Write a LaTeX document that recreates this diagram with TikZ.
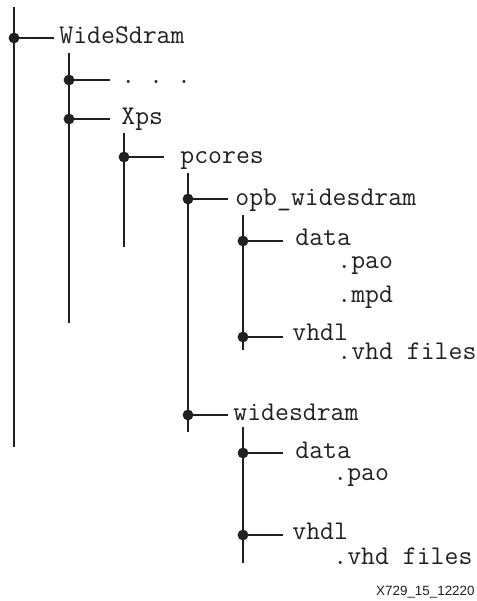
\documentclass[tikz,border=0pt]{standalone}
\usepackage{fontspec}
\newfontfamily\labfont{Liberation Sans}
\definecolor{ink}{HTML}{231F20}
\begin{document}
\begin{tikzpicture}[x=0.5pt,y=-0.5pt,
  ln/.style={draw=ink,line width=0.65pt},
  dt/.style={circle,fill=ink,inner sep=0pt,minimum size=5.4pt},
  txt/.style={anchor=base west,inner sep=0pt,text=ink,font=\ttfamily\fontsize{13.5}{16}\selectfont},
  lab/.style={anchor=base east,inner sep=0pt,text=ink,font=\labfont\fontsize{6.7}{8}\selectfont}]
\useasboundingbox (0,0) rectangle (477,601);
% level 1
\coordinate (v1t) at (14,7);
\coordinate (v1b) at (14,447);
\draw[ln] (v1t) -- (v1b);
\node[dt] (d1) at (14,38) {};
\node[txt] (t1) at (59,43.5) {WideSdram};
\draw[ln] (d1.center) -- (54,38) coordinate (e1);
% level 2
\coordinate (v2t) at (69,53);
\coordinate (v2b) at (69,323);
\draw[ln] (v2t) -- (v2b);
\node[dt] (d2a) at (69,80) {};
\node[dt] (d2b) at (69,119) {};
\draw[ln] (d2a.center) -- (110,80) coordinate (e2a);
\draw[ln] (d2b.center) -- (110,119) coordinate (e2b);
\node[txt] (t2a) at (121,83) {.\ .\ .};
\node[txt] (t2b) at (121,124) {Xps};
% level 3
\coordinate (v3t) at (124,133);
\coordinate (v3b) at (124,247);
\draw[ln] (v3t) -- (v3b);
\node[dt] (d3) at (124,157) {};
\draw[ln] (d3.center) -- (164,157) coordinate (e3);
\node[txt] (t3) at (180,163) {pcores};
% level 4
\coordinate (v4t) at (188,173);
\coordinate (v4b) at (188,432);
\draw[ln] (v4t) -- (v4b);
\node[dt] (d4a) at (188,199) {};
\node[dt] (d4b) at (188,415) {};
\draw[ln] (d4a.center) -- (228,199) coordinate (e4a);
\draw[ln] (d4b.center) -- (228,415) coordinate (e4b);
\node[txt] (t4a) at (235,205) {opb\_widesdram};
\node[txt] (t4b) at (233,420) {widesdram};
% level 5a
\coordinate (v5t) at (243,215);
\coordinate (v5b) at (243,350);
\draw[ln] (v5t) -- (v5b);
\node[dt] (d5a) at (243,241) {};
\node[dt] (d5b) at (243,337) {};
\draw[ln] (d5a.center) -- (283,241) coordinate (e5a);
\draw[ln] (d5b.center) -- (283,337) coordinate (e5b);
\node[txt] (t5a) at (295,245) {data};
\node[txt] (t5b) at (337,268) {.pao};
\node[txt] (t5c) at (337,302) {.mpd};
\node[txt] (t5d) at (292,340) {vhdl};
\node[txt] (t5e) at (337,359) {.vhd files};
% level 5b
\coordinate (v6t) at (243,427);
\coordinate (v6b) at (243,563);
\draw[ln] (v6t) -- (v6b);
\node[dt] (d6a) at (243,453) {};
\node[dt] (d6b) at (243,535) {};
\draw[ln] (d6a.center) -- (283,453) coordinate (e6a);
\draw[ln] (d6b.center) -- (283,535) coordinate (e6b);
\node[txt] (t6a) at (295,458) {data};
\node[txt] (t6b) at (333,480) {.pao};
\node[txt] (t6d) at (292,539) {vhdl};
\node[txt] (t6e) at (333,564) {.vhd files};
% figure id
\node[lab] (id) at (475,595) {X729\_15\_12220};
\end{tikzpicture}
\end{document}
